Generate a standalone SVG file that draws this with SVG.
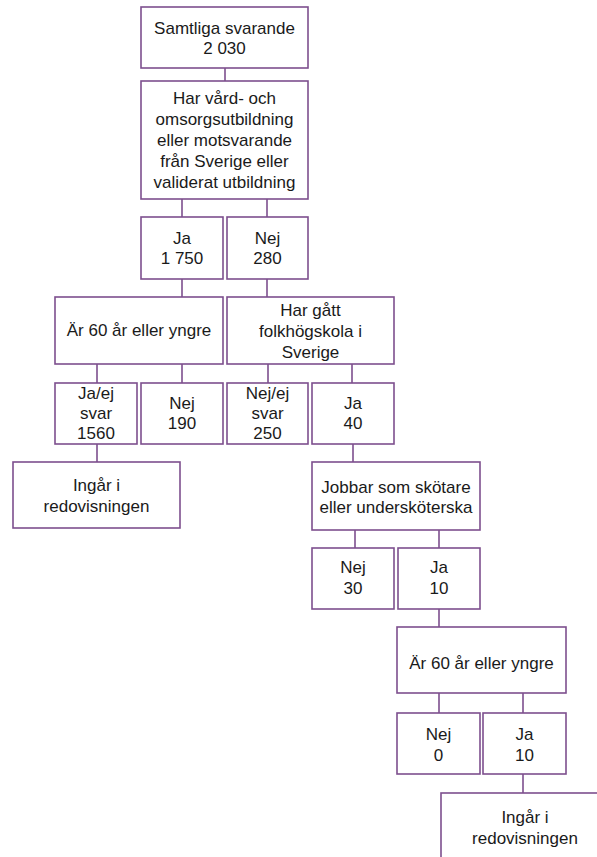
<svg xmlns="http://www.w3.org/2000/svg" width="597" height="857" viewBox="0 0 597 857">
<style>
.b{fill:#ffffff;stroke:#7d4f8e;stroke-width:1.6}
.c line{stroke:#7d4f8e;stroke-width:1.6}
text{font-family:"Liberation Sans",Arial,sans-serif;font-size:17px;fill:#1a1a1a;text-anchor:middle}
</style>
<rect width="597" height="857" fill="#ffffff"/>
<g class="c" id="connectors">
<line x1="225" y1="68" x2="225" y2="81"/>
<line x1="182" y1="199" x2="182" y2="217"/>
<line x1="267" y1="199" x2="267" y2="217"/>
<line x1="182" y1="279" x2="182" y2="297"/>
<line x1="267" y1="279" x2="267" y2="297"/>
<line x1="97" y1="364" x2="97" y2="383"/>
<line x1="182" y1="364" x2="182" y2="383"/>
<line x1="268" y1="364" x2="268" y2="383"/>
<line x1="352" y1="364" x2="352" y2="383"/>
<line x1="97" y1="444" x2="97" y2="462"/>
<line x1="353" y1="444" x2="353" y2="462"/>
<line x1="355" y1="530" x2="355" y2="548"/>
<line x1="439" y1="530" x2="439" y2="548"/>
<line x1="439" y1="609" x2="439" y2="627"/>
<line x1="439" y1="693" x2="439" y2="713"/>
<line x1="523" y1="693" x2="523" y2="713"/>
<line x1="523" y1="774" x2="523" y2="793"/>
</g>
<g id="n1"><rect class="b" x="141" y="7" width="167" height="61"/><text x="224.5" y="34">Samtliga svarande</text><text x="224.5" y="54">2 030</text></g>
<g id="n2"><rect class="b" x="141" y="81" width="167" height="118"/><text x="224.5" y="104">Har vård- och</text><text x="224.5" y="125">omsorgsutbildning</text><text x="224.5" y="146">eller motsvarande</text><text x="224.5" y="167">från Sverige eller</text><text x="224.5" y="188">validerat utbildning</text></g>
<g id="n3"><rect class="b" x="141" y="217" width="82" height="62"/><text x="182" y="244">Ja</text><text x="182" y="264">1 750</text></g>
<g id="n4"><rect class="b" x="227" y="217" width="81" height="62"/><text x="267.5" y="244">Nej</text><text x="267.5" y="264">280</text></g>
<g id="n5"><rect class="b" x="55" y="297" width="168" height="67"/><text x="139" y="336">Är 60 år eller yngre</text></g>
<g id="n6"><rect class="b" x="227" y="297" width="167" height="67"/><text x="310.5" y="316">Har gått</text><text x="310.5" y="337">folkhögskola i</text><text x="310.5" y="358">Sverige</text></g>
<g id="n7"><rect class="b" x="55" y="383" width="82" height="61"/><text x="96" y="399">Ja/ej</text><text x="96" y="419">svar</text><text x="96" y="439">1560</text></g>
<g id="n8"><rect class="b" x="141" y="383" width="82" height="61"/><text x="182" y="409">Nej</text><text x="182" y="429">190</text></g>
<g id="n9"><rect class="b" x="227" y="383" width="81" height="61"/><text x="267.5" y="399">Nej/ej</text><text x="267.5" y="419">svar</text><text x="267.5" y="439">250</text></g>
<g id="n10"><rect class="b" x="312" y="383" width="82" height="61"/><text x="353" y="409">Ja</text><text x="353" y="429">40</text></g>
<g id="n11"><rect class="b" x="13" y="462" width="167" height="66"/><text x="96.5" y="491">Ingår i</text><text x="96.5" y="512">redovisningen</text></g>
<g id="n12"><rect class="b" x="312" y="462" width="168" height="68"/><text x="396" y="493">Jobbar som skötare</text><text x="396" y="513">eller undersköterska</text></g>
<g id="n13"><rect class="b" x="312" y="548" width="82" height="61"/><text x="353" y="573">Nej</text><text x="353" y="594">30</text></g>
<g id="n14"><rect class="b" x="398" y="548" width="82" height="61"/><text x="439" y="573">Ja</text><text x="439" y="594">10</text></g>
<g id="n15"><rect class="b" x="397" y="627" width="169" height="66"/><text x="481.5" y="669">Är 60 år eller yngre</text></g>
<g id="n16"><rect class="b" x="397" y="713" width="83" height="61"/><text x="438.5" y="740">Nej</text><text x="438.5" y="761">0</text></g>
<g id="n17"><rect class="b" x="483" y="713" width="83" height="61"/><text x="524.5" y="740">Ja</text><text x="524.5" y="761">10</text></g>
<g id="n18"><rect class="b" x="441" y="793" width="168" height="70"/><text x="525" y="823">Ingår i</text><text x="525" y="844">redovisningen</text></g>
</svg>
